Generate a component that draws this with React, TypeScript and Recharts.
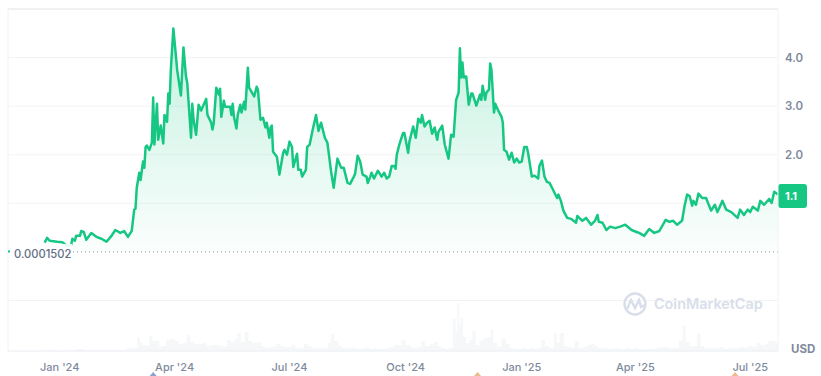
import { Area, AreaChart, CartesianGrid, ReferenceDot, ReferenceLine, XAxis, YAxis } from 'recharts';

// x positions are days since 1 Jan 2024
const priceDays = [
  -12, -10, -8, -2, 2, 6, 9, 10, 12, 13, 16, 17, 19, 21, 25, 29, 33, 37, 41, 44, 48, 51, 54, 57, 59, 60,
  61, 63, 64, 66, 67, 68, 69, 71, 73, 74, 75, 77, 78, 80, 82, 83, 85, 86, 87, 88, 90, 93, 96, 98, 100, 101,
  104, 105, 106, 108, 110, 112, 116, 117, 120, 121, 122, 124, 126, 127, 128, 130, 131, 135, 136, 137, 138,
  140, 141, 143, 144, 146, 147, 149, 150, 154, 156, 157, 159, 161, 163, 164, 166, 167, 168, 169, 172, 174,
  177, 178, 180, 182, 184, 185, 188, 189, 191, 192, 195, 196, 198, 200, 203, 205, 207, 210, 212, 215, 217,
  220, 223, 225, 228, 230, 233, 234, 236, 238, 240, 243, 244, 246, 247, 249, 252, 255, 257, 259, 261, 263,
  265, 266, 267, 269, 272, 273, 276, 277, 280, 282, 284, 286, 287, 289, 291, 293, 295, 297, 299, 300, 303,
  305, 308, 310, 312, 314, 316, 317, 318, 319, 320, 322, 324, 326, 327, 330, 333, 334, 335, 337, 338, 340,
  341, 342, 344, 345, 347, 350, 351, 352, 354, 356, 358, 360, 362, 364, 366, 368, 370, 371, 374, 376, 379,
  380, 382, 384, 386, 388, 390, 394, 395, 397, 399, 402, 405, 409, 410, 414, 417, 421, 424, 426, 427, 430,
  433, 436, 440, 444, 448, 453, 457, 459, 463, 467, 471, 475, 480, 483, 486, 489, 493, 495, 497, 499, 501,
  502, 504, 506, 509, 512, 516, 519, 521, 525, 528, 532, 537, 539, 542, 545, 547, 549, 553, 555, 558, 562,
  564, 566, 569,
];
const prices = [
  0.19, 0.29, 0.23, 0.21, 0.2, 0.12, 0.14, 0.27, 0.23, 0.33, 0.33, 0.43, 0.41, 0.25, 0.39, 0.31, 0.27, 0.21, 0.33, 0.45, 0.39, 0.43, 0.31, 0.43, 0.87, 0.89,
  1.32, 1.63, 1.48, 1.86, 1.73, 2.16, 2.19, 2.1, 2.25, 3.18, 2.21, 3.05, 2.31, 2.6, 2.23, 2.82, 2.68, 3.26, 3.05, 3.75, 4.6, 3.75, 3.22, 4.21, 3.61, 3.48,
  2.35, 3.05, 2.72, 2.41, 3.03, 2.91, 3.15, 2.82, 2.66, 2.52, 2.66, 3.38, 3.24, 3.36, 2.78, 3.11, 2.99, 2.99, 2.82, 3.05, 2.78,
  2.54, 2.82, 3.03, 2.87, 3.09, 2.93, 3.79, 3.38, 3.2, 3.4, 3.34, 2.72, 2.76, 2.56, 2.66, 2.35, 2.56, 2.6, 2.06, 1.96, 1.59,
  2.04, 2.1, 2.0, 2.27, 2.16, 1.75, 2.02, 1.69, 1.69, 1.55, 1.69, 2.16, 2.21, 2.47, 2.82, 2.49, 2.66, 2.35, 2.25, 1.65, 1.32,
  1.92, 1.73, 1.73, 1.42, 1.4, 1.55, 1.61, 1.98, 1.86, 1.59, 1.55, 1.42, 1.55, 1.63, 1.51, 1.67, 1.55, 1.63, 1.51, 1.55, 1.77,
  1.77, 1.71, 2.0, 2.21, 2.45, 2.45, 2.04, 2.27, 2.58, 2.35, 2.74, 2.66, 2.82, 2.58, 2.66, 2.7, 2.43, 2.56, 2.31, 2.47, 2.6,
  2.21, 1.92, 2.41, 2.37, 3.13, 3.28, 4.19, 3.59, 3.9, 3.59, 3.61, 3.03, 3.26, 3.26, 3.01, 3.24, 3.13, 3.42, 3.13, 3.28, 3.34,
  3.88, 3.75, 2.87, 3.05, 2.93, 2.78, 2.66, 2.1, 2.06, 1.9, 2.04, 1.84, 1.92, 1.84, 1.86, 2.16, 2.16, 2.04, 1.55, 1.57, 1.51,
  1.77, 1.88, 1.55, 1.44, 1.42, 1.32, 1.11, 1.18, 1.05, 0.85, 0.7, 0.68, 0.6, 0.74, 0.64, 0.7, 0.56, 0.64, 0.76, 0.62, 0.6,
  0.45, 0.52, 0.49, 0.52, 0.56, 0.45, 0.41, 0.39, 0.33, 0.47, 0.39, 0.43, 0.66, 0.62, 0.64, 0.56, 0.64, 0.95, 1.18, 1.15, 0.95,
  1.05, 0.97, 1.2, 1.11, 1.11, 0.85, 0.97, 0.82, 1.05, 0.87, 0.82, 0.7, 0.87, 0.76, 0.87, 0.82, 0.93, 0.85, 1.05, 0.97, 1.09,
  1.01, 1.24, 1.18,
];
const volumeDays = [
  -14, -12, -6, 0, 10, 16, 22, 30, 44, 50, 56, 60, 63, 64, 67, 70, 72, 75, 78, 80, 83, 86, 89, 93, 96, 99, 102, 105, 108,
  112, 115, 118, 121, 124, 128, 131, 134, 137, 140, 142, 145, 148, 151, 154, 158, 161, 164, 166, 169, 173, 176, 179,
  182, 185, 188, 192, 195, 198, 201, 204, 207, 211, 214, 216, 219, 222, 225, 228, 231, 234, 238, 241, 244, 247, 250,
  253, 257, 260, 263, 266, 269, 272, 276, 279, 282, 285, 288, 291, 295, 298, 301, 304, 307, 310, 313, 314, 316, 317,
  318, 321, 323, 326, 328, 331, 334, 337, 341, 342, 345, 348, 352, 355, 358, 361, 364, 367, 371, 374, 377, 380, 383,
  386, 390, 393, 394, 398, 401, 404, 407, 409, 413, 416, 419, 422, 425, 428, 432, 435, 438, 441, 444, 447, 451, 454,
  457, 460, 463, 466, 470, 473, 476, 479, 482, 485, 489, 492, 495, 497, 501, 504, 506, 509, 512, 516, 519, 522, 525,
  528, 531, 535, 538, 541, 544, 547, 550, 554, 557, 560, 563, 566, 569,
];
const volumes = [
  0, 1, 1, 0, 1, 2, 1, 1, 1, 1, 3, 3, 14, 9, 6, 5, 15, 10, 10, 4, 5, 11, 12, 10, 7, 8, 16, 9, 7,
  7, 8, 5, 6, 6, 5, 4, 11, 9, 12, 18, 9, 19, 10, 8, 9, 5, 3, 3, 4, 7, 5, 4,
  4, 6, 3, 3, 7, 5, 3, 3, 3, 3, 8, 17, 10, 5, 3, 3, 3, 3, 2, 3, 3, 2, 3,
  2, 2, 3, 4, 6, 6, 11, 6, 4, 3, 4, 10, 5, 7, 9, 5, 3, 2, 3, 32, 20, 48, 25,
  33, 14, 8, 11, 20, 6, 10, 13, 14, 22, 8, 4, 12, 7, 3, 2, 2, 3, 2, 3, 2, 3, 11,
  5, 3, 18, 8, 18, 5, 4, 3, 10, 3, 4, 6, 7, 5, 3, 3, 2, 2, 3, 2, 2, 3, 2,
  3, 2, 2, 2, 2, 3, 3, 4, 3, 3, 3, 10, 25, 9, 5, 5, 17, 5, 3, 3, 3, 3, 4,
  2, 3, 3, 3, 4, 3, 5, 4, 8, 6, 7, 10, 10, 8,
];
const tickDays = [0, 91, 182, 274, 366, 456, 547];
const tickLabels = ["Jan '24", "Apr '24", "Jul '24", "Oct '24", "Jan '25", "Apr '25", "Jul '25"];
const priceTicks = [-1, 1, 2, 3, 4];
const lastPrice = 1.1;
const openPrice = 0.0001502;
const eventDays = [74, 331, 535];
const eventColors = ['#8CA2CC', '#EBBB8E', '#EBBB8E'];

const priceData = priceDays.map((day, i) => ({ day, price: prices[i] }));
const volumeData = volumeDays.map((day, i) => ({ day, volume: volumes[i] }));

const GREEN = '#16C784';
const FONT = 'Inter, "Noto Sans", sans-serif';

function PriceBadge({ viewBox }: any) {
  const y = viewBox.y;
  return (
    <g>
      <rect x={778} y={y - 14.5} width={29} height={24} rx={3} fill={GREEN} />
      <text x={791} y={y + 1.5} textAnchor='middle' fontSize={11} fontWeight={700} fill='#fff' fontFamily={FONT}>
        1.1
      </text>
    </g>
  );
}

function OpenLabel({ viewBox }: any) {
  const y = viewBox.y;
  return (
    <g>
      <rect x={10} y={y - 8} width={62} height={16} fill='#fff' fillOpacity={0.9} />
      <rect x={8} y={y - 1.5} width={2} height={2} fill={GREEN} />
      <text x={14} y={y + 6} fontSize={11.2} fontWeight={500} fill='#616E85' fontFamily={FONT}>
        0.0001502
      </text>
    </g>
  );
}

function PriceTick({ x, y, payload }: any) {
  if (payload.value < 2) return null;
  return (
    <text x={x - 1} y={y + 4} fontSize={11.5} fontWeight={600} fill='#808A9D' fontFamily={FONT}>
      {payload.value.toFixed(1)}
    </text>
  );
}

function EventMarker({ cx, cy, fill }: any) {
  return <path d={`M${cx - 3.5} ${cy + 25} L${cx} ${cy + 21} L${cx + 3.5} ${cy + 25} Z`} fill={fill} />;
}

function Watermark() {
  return (
    <svg width={150} height={32} style={{ position: 'absolute', left: 620, top: 288 }}>
      <circle cx={15} cy={16} r={10.5} fill='none' stroke='#D8DEEA' strokeWidth={2.4} />
      <path d='M7 21 L11 12 L15 20 L19 12 L21 19 L25 17' fill='none' stroke='#D8DEEA' strokeWidth={2.4} />
      <text x={34} y={21} fontSize={14.4} fontWeight={600} fill='#D8DEEA' fontFamily={FONT}>
        CoinMarketCap
      </text>
    </svg>
  );
}

export default function App() {
  return (
    <div style={{ position: 'absolute', left: 0, top: 0, width: 821, height: 376, background: '#fff' }}>
      <AreaChart width={821} height={376} margin={{ top: 9, right: 0, bottom: 0, left: 8 }}>
        <defs>
          <linearGradient id='priceFill' x1='0' y1='0' x2='0' y2='1'>
            <stop offset='0%' stopColor={GREEN} stopOpacity={0.42} />
            <stop offset='100%' stopColor={GREEN} stopOpacity={0.03} />
          </linearGradient>
        </defs>
        <CartesianGrid horizontal vertical={false} yAxisId='price' stroke='#F2F3F5' />
        <XAxis
          dataKey='day'
          type='number'
          domain={[-41, 569]}
          ticks={tickDays}
          tickFormatter={(d: number) => tickLabels[tickDays.indexOf(d)]}
          height={25}
          interval={0}
          tickLine={false}
          axisLine={{ stroke: '#EFF2F5' }}
          tick={{ fontSize: 11, fontWeight: 500, fill: '#808A9D', fontFamily: FONT, dy: 4 }}
        />
        <YAxis
          yAxisId='price'
          orientation='right'
          width={43}
          type='number'
          domain={[-2.04, 5]}
          ticks={priceTicks}
          interval={0}
          tickLine={false}
          axisLine={{ stroke: '#EFF2F5' }}
          tick={<PriceTick />}
        />
        <YAxis yAxisId='volume' hide type='number' domain={[0, 342]} />
        <Area
          yAxisId='volume'
          data={volumeData}
          dataKey='volume'
          type='step'
          stroke='none'
          fill='#EFF2F5'
          isAnimationActive={false}
        />
        <Area
          yAxisId='price'
          data={priceData}
          dataKey='price'
          type='linear'
          baseValue={openPrice}
          stroke={GREEN}
          strokeWidth={2.5}
          strokeLinejoin='round'
          fill='url(#priceFill)'
          isAnimationActive={false}
        />
        <ReferenceLine yAxisId='price' y={5} stroke='#E8E9EB' />
        <ReferenceLine yAxisId='price' x={-41} stroke='#EFF2F5' />
        <ReferenceLine
          yAxisId='price'
          y={openPrice}
          stroke='#808A9D'
          strokeDasharray='1 3'
          label={<OpenLabel />}
        />
        <ReferenceLine yAxisId='price' y={lastPrice} stroke='none' label={<PriceBadge />} />
        {eventDays.map((day, i) => (
          <ReferenceDot
            key={day}
            yAxisId='price'
            x={day}
            y={-2.04}
            fill={eventColors[i]}
            shape={<EventMarker />}
          />
        ))}
      </AreaChart>
      <Watermark />
      <div
        style={{
          position: 'absolute',
          left: 791,
          top: 342,
          fontFamily: FONT,
          fontSize: 11.5,
          fontWeight: 700,
          color: '#808A9D',
        }}
      >
        USD
      </div>
    </div>
  );
}
